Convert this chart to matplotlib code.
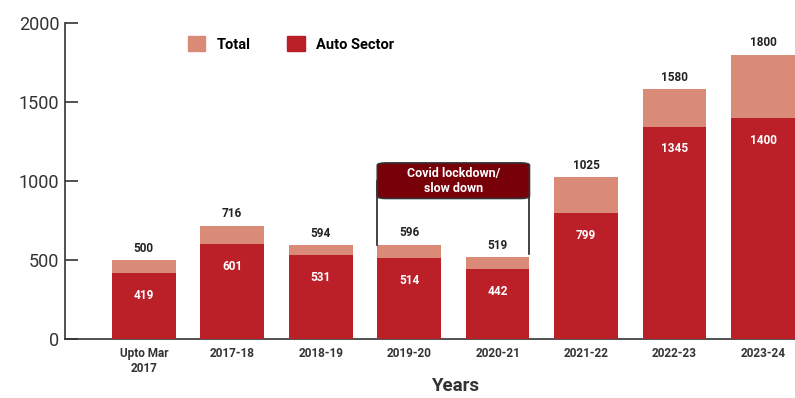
import matplotlib.pyplot as plt
import numpy as np
from matplotlib.patches import FancyBboxPatch, Patch

plt.rcParams['font.family'] = ['Roboto', 'DejaVu Sans']

# data
years = ['Upto Mar\n2017', '2017-18', '2018-19', '2019-20', '2020-21', '2021-22', '2022-23', '2023-24']
total = [500, 716, 594, 596, 519, 1025, 1580, 1800]
auto = [419, 601, 531, 514, 442, 799, 1345, 1400]

TOTAL_COL = '#D98B78'
AUTO_COL = '#BB2029'
BOX_COL = '#780008'

fig = plt.figure(figsize=(7.95, 3.98), dpi=100)
ax = fig.add_axes([0.0818, 0.148, 0.918, 0.794])

x = np.arange(len(years))
width = 0.72
ax.bar(x, total, width, color=TOTAL_COL, zorder=2)
ax.bar(x, auto, width, color=AUTO_COL, zorder=3)

for i in range(len(years)):
    ax.annotate(str(total[i]), (x[i], total[i]), xytext=(0, 4), textcoords='offset points',
                ha='center', va='bottom', fontsize=8.5, fontweight='bold', color='#222222')
    ax.annotate(str(auto[i]), (x[i], auto[i]), xytext=(0, -16), textcoords='offset points',
                ha='center', va='center', fontsize=8.5, fontweight='bold', color='white', zorder=5)

# covid bracket
x0 = x[3] - width / 2
x1 = x[4] + width / 2
ax.plot([x0, x0], [total[3], 1000], color='#222222', lw=1.2, zorder=4)
ax.plot([x1, x1], [total[4] + 20, 1000], color='#222222', lw=1.2, zorder=4)
box = FancyBboxPatch((x0, 890), x1 - x0, 225, boxstyle='round,pad=0,rounding_size=0.1',
                     mutation_aspect=150, facecolor=BOX_COL, edgecolor='#333333', lw=1.2, zorder=5)
ax.add_patch(box)
ax.text((x0 + x1) / 2, 1002, 'Covid lockdown/\nslow down', ha='center', va='center',
        fontsize=9, fontweight='bold', color='white', zorder=6, linespacing=1.2)

ax.set_xlim(-0.89, 7.36)
ax.set_ylim(0, 2000)
ax.set_yticks([0, 500, 1000, 1500, 2000])
ax.set_xticks(x, years)
ax.tick_params(axis='y', direction='in', length=9, width=1.2, labelsize=13, colors='#333333', pad=4)
ax.tick_params(axis='x', length=0, labelsize=8.5, pad=6)
for lab in ax.get_xticklabels():
    lab.set_fontweight('bold')
    lab.set_color('#333333')
for s in ['top', 'right']:
    ax.spines[s].set_visible(False)
for s in ['left', 'bottom']:
    ax.spines[s].set_color('#333333')
    ax.spines[s].set_linewidth(1.2)

ax.set_xlabel('Years', fontsize=13.5, fontweight='bold', color='#333333', va='center')
ax.xaxis.set_label_coords(0.534, -0.15)

handles = [Patch(color=TOTAL_COL, label='Total'), Patch(color=AUTO_COL, label='Auto Sector')]
ax.legend(handles=handles, ncol=2, frameon=False, loc='upper left', bbox_to_anchor=(0.15, 1.0),
          handlelength=1.2, handleheight=1.2, columnspacing=2.5,
          prop={'weight': 'bold', 'size': 10.5})

plt.savefig('out.png')
